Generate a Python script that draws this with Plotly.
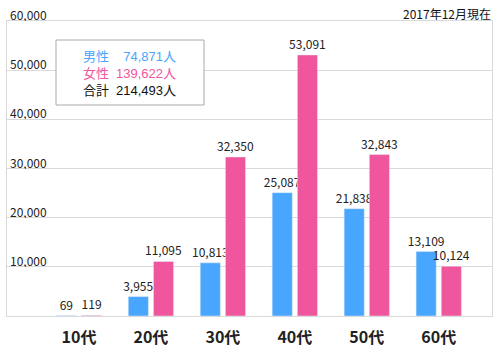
import plotly.graph_objects as go

categories = ["10代", "20代", "30代", "40代", "50代", "60代"]
male = [69, 3955, 10813, 25087, 21838, 13109]
female = [119, 11095, 32350, 53091, 32843, 10124]
y_ticks = [10000, 20000, 30000, 40000, 50000, 60000]
legend_labels = ["男性", "女性", "合計"]
legend_values = ["74,871人", "139,622人", "214,493人"]
note = "2017年12月現在"

BLUE = "#48A6FF"
PINK = "#F0569D"
FONT = "Noto Sans CJK JP"
LFONT = "Liberation Sans, Noto Sans CJK JP"

W, H = 500, 360
ML, MR, MT, MB = 7, 8, 21, 44
PW, PH = W - ML - MR, H - MT - MB

def px(x):
    return (x - ML) / PW

def py(y):
    return (H - MB - y) / PH

fig = go.Figure()
for vals, col, nm in [(male, BLUE, "男性"), (female, PINK, "女性")]:
    fig.add_trace(go.Bar(x=categories, y=vals, marker_color=col, name=nm,
                         text=[f"{v:,}" for v in vals], textposition="outside",
                         constraintext="none", textangle=0,
                         textfont=dict(size=12, color="#222", family=FONT),
                         cliponaxis=False))

fig.update_layout(
    width=W, height=H,
    margin=dict(l=ML, r=MR, t=MT, b=MB),
    paper_bgcolor="white", plot_bgcolor="white",
    barmode="group", bargap=0.3, bargroupgap=0.2,
    showlegend=False,
    font=dict(family=FONT, color="#222"),
)
fig.update_xaxes(range=[-1.0, 5.74], showgrid=False, ticks="",
                 tickfont=dict(size=16, color="#222", family=FONT, weight="bold"),
                 ticklabelstandoff=7,
                 showline=True, linecolor="#d9d9d9", linewidth=1, mirror=True)
fig.update_yaxes(range=[0, 60000], tickvals=y_ticks, showticklabels=False,
                 showgrid=True, gridcolor="#d9d9d9", gridwidth=1,
                 zeroline=False,
                 showline=True, linecolor="#d9d9d9", linewidth=1, mirror=True)

# y tick labels placed just above their gridlines
for v in y_ticks:
    fig.add_annotation(xref="paper", yref="y", x=0.004, y=v, yshift=7,
                       xanchor="left", yanchor="middle", text=f"{v:,}",
                       showarrow=False, height=14, borderpad=0,
                       font=dict(size=12, color="#222", family=FONT))

fig.add_shape(type="rect", xref="paper", yref="paper",
              x0=px(56), x1=px(204), y0=py(105), y1=py(40),
              line=dict(color="#aaaaaa", width=1), fillcolor="white", layer="above")

colors = [BLUE, PINK, "#111"]
lab_text = "<br>".join(f"<span style='color:{c}'>{t}</span>"
                       for t, c in zip(legend_labels, colors))
val_text = "<br>".join(f"<span style='color:{c}'>{t}</span>"
                       for t, c in zip(legend_values, colors))
fig.add_annotation(xref="paper", yref="paper", x=px(82), y=py(73),
                   xanchor="left", yanchor="middle", align="left",
                   text=lab_text, showarrow=False, borderpad=0,
                   font=dict(size=13, family=LFONT))
fig.add_annotation(xref="paper", yref="paper", x=px(177), y=py(73),
                   xanchor="right", yanchor="middle", align="right",
                   text=val_text, showarrow=False, borderpad=0,
                   font=dict(size=13, family=LFONT))

fig.add_annotation(xref="paper", yref="paper", x=1.0, y=py(14),
                   xanchor="right", yanchor="middle", text=note, showarrow=False,
                   height=15, borderpad=0,
                   font=dict(size=12, color="#111", family=FONT))

fig.write_html("out.html", config={"displayModeBar": False},
               post_script="document.body.style.margin='0';")
